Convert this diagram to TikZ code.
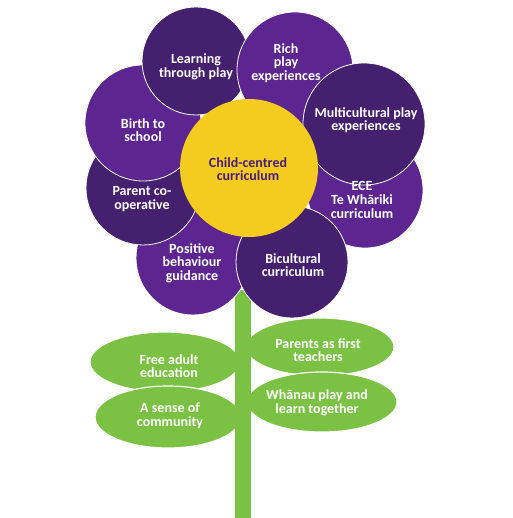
\documentclass[tikz,border=0pt]{standalone}
\usepackage{fontspec}
\setmainfont{Carlito}
\usetikzlibrary{shapes.geometric}
\definecolor{plight}{HTML}{5C2590}
\definecolor{pdark}{HTML}{44206F}
\definecolor{fyellow}{HTML}{F4CC20}
\definecolor{lgreen}{HTML}{7BC143}
\definecolor{ctext}{HTML}{4A1E7C}
\tikzset{
  petal/.style={circle, inner sep=0pt, draw=white, line width=0.8pt},
  ptext/.style={text=white, align=center, font=\bfseries\fontsize{14}{13.6}\selectfont, inner sep=0pt},
  leaf/.style={ellipse, inner sep=0pt, fill=lgreen, draw=white, line width=1.2pt},
  ltext/.style={text=white, align=center, font=\bfseries\fontsize{14}{13.6}\selectfont, inner sep=0pt}
}
\begin{document}
\begin{tikzpicture}[x=1pt,y=-1pt]
\useasboundingbox (0,0) rectangle (512,518);
% leaves
\node[leaf, minimum width=150pt, minimum height=60pt] (free) at (165,362) {};
\node[leaf, minimum width=146pt, minimum height=62pt] (sense) at (168,417) {};
\node[leaf, minimum width=148pt, minimum height=58pt] (parents) at (320,347) {};
\node[leaf, minimum width=150pt, minimum height=60pt] (whanau) at (322,402) {};
% stem
\fill[lgreen] (235,290) rectangle (251,518);
% petals
\node[petal, fill=plight, minimum size=114pt] (pos) at (193,258) {};
\node[petal, fill=pdark, minimum size=114pt] (par) at (143,188) {};
\node[petal, fill=plight, minimum size=116pt] (birth) at (143,123) {};
\node[petal, fill=pdark, minimum size=108pt] (learn) at (196,61) {};
\node[petal, fill=plight, minimum size=116pt] (rich) at (295,70) {};
\node[petal, fill=plight, minimum size=116pt] (ece) at (365,190) {};
\node[petal, fill=pdark, minimum size=122pt] (multi) at (364,124) {};
\node[petal, fill=pdark, minimum size=112pt] (bic) at (292,262) {};
\node[circle, inner sep=0pt, fill=fyellow, minimum size=138pt] (centre) at (249,168) {};
% texts
\node[ptext] (tlearn) at (196,67) {Learning\\through play};
\node[ptext] (trich) at (286,63) {Rich\\play\\experiences};
\node[ptext] (tmulti) at (366,120) {Multicultural play\\experiences};
\node[ptext] (tbirth) at (143,130) {Birth to\\school};
\node[ptext] (tpar) at (142,199) {Parent co-\\operative};
\node[ptext] (tpos) at (192,263) {Positive\\behaviour\\guidance};
\node[ptext] (tbic) at (293,265) {Bicultural\\curriculum};
\node[ptext] (tece) at (362,200) {ECE\\Te Whāriki\\curriculum};
\node[ptext, text=ctext] (tcentre) at (248,169) {Child-centred\\curriculum};
\node[ltext] (tfree) at (169,366) {Free adult\\education};
\node[ltext] (tsense) at (170,416) {A sense of\\community};
\node[ltext] (tparents) at (318,350) {Parents as first\\teachers};
\node[ltext] (twhanau) at (317,403) {Whānau play and\\learn together};
\end{tikzpicture}
\end{document}
